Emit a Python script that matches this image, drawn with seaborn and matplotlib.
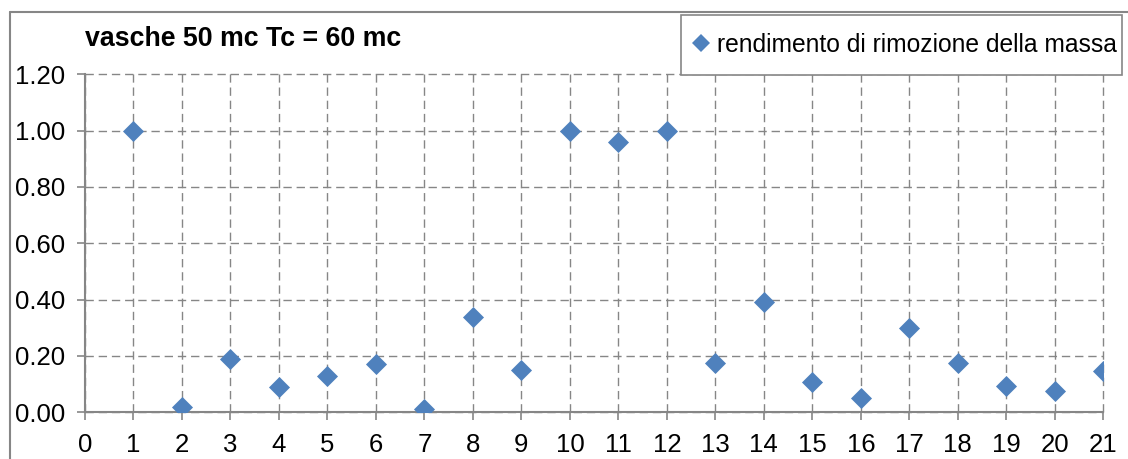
import matplotlib
matplotlib.use("Agg")
import matplotlib.pyplot as plt
from matplotlib.lines import Line2D
from matplotlib.patches import Rectangle
import seaborn as sns
import pandas as pd

# Mass removal efficiency per event
eventi = list(range(1, 22))
rendimento = [1.00, 0.02, 0.19, 0.09, 0.13, 0.17, 0.01, 0.34, 0.15, 1.00,
              0.96, 1.00, 0.175, 0.39, 0.107, 0.052, 0.30, 0.174, 0.092, 0.076, 0.148]
x_ticks = list(range(0, 22))
y_ticks = [0.0, 0.2, 0.4, 0.6, 0.8, 1.0, 1.2]
titolo = "vasche 50 mc Tc = 60 mc"
etichetta = "rendimento di rimozione della massa"

sns.set_theme(style="white")
FONT = ["Liberation Sans", "DejaVu Sans"]
plt.rcParams["font.family"] = FONT
plt.rcParams["text.color"] = "black"

BLUE = "#4F81BD"
GRAY = "#868686"

df = pd.DataFrame({"evento": eventi, "rendimento": rendimento})

fig = plt.figure(figsize=(11.28, 4.59), dpi=100)
ax = fig.add_axes([85 / 1128, 1 - 412.3 / 459, (1103.3 - 85) / 1128, (412.3 - 74.3) / 459])

sns.scatterplot(data=df, x="evento", y="rendimento", marker="D", s=115,
                color=BLUE, linewidth=0, ax=ax, zorder=3, legend=False)

ax.set_xlim(0, 21)
ax.set_ylim(0, 1.2)
ax.set_xticks(x_ticks)
ax.set_xticklabels([str(v) for v in x_ticks])
ax.set_yticks(y_ticks)
ax.set_yticklabels([f"{v:.2f}" for v in y_ticks])
ax.set_xlabel("")
ax.set_ylabel("")

ax.grid(True, color=GRAY, linestyle=(0, (6, 3.5)), linewidth=1.0, zorder=1)
for gl in ax.get_xgridlines() + ax.get_ygridlines():
    gl.set_clip_on(False)
for side in ["top", "right"]:
    ax.spines[side].set_visible(False)
for side in ["left", "bottom"]:
    ax.spines[side].set_visible(True)
    ax.spines[side].set_color(GRAY)
    ax.spines[side].set_linewidth(1.5)
    ax.spines[side].set_zorder(2)

ax.tick_params(axis="both", direction="out", length=6, width=1.2, color=GRAY,
               labelsize=18.5, labelcolor="black", bottom=True, left=True)
ax.tick_params(axis="x", pad=9)
ax.tick_params(axis="y", pad=8)

# Outer chart frame (top and left edges)
fig.add_artist(Line2D([10 / 1128, 10 / 1128], [0, 1 - 12 / 459], transform=fig.transFigure,
                      color=GRAY, linewidth=1.5))
fig.add_artist(Line2D([10 / 1128, 1], [1 - 12 / 459, 1 - 12 / 459], transform=fig.transFigure,
                      color=GRAY, linewidth=1.5))

# Title
fig.text(85 / 1128, 1 - 39 / 459, titolo, ha="left", va="center", color="black",
         fontsize=19.3, fontweight="bold", family=FONT)

# Legend box
lx0, ly0, lx1, ly1 = 681 / 1128, 1 - 75 / 459, 1122 / 1128, 1 - 15 / 459
fig.add_artist(Rectangle((lx0, ly0), lx1 - lx0, ly1 - ly0, transform=fig.transFigure,
                         facecolor="white", edgecolor=GRAY, linewidth=1.2, zorder=5))
handle = Line2D([], [], marker="D", linestyle="none", color=BLUE, markersize=9,
                markeredgewidth=0)
leg = fig.legend([handle], [etichetta], loc="center left",
                 bbox_to_anchor=(694 / 1128, (ly0 + ly1) / 2),
                 bbox_transform=fig.transFigure, frameon=False, fontsize=17.7,
                 handlelength=0.6, handletextpad=0.35, borderpad=0, borderaxespad=0,
                 labelcolor="black")
leg.set_zorder(6)

fig.savefig("out.png", dpi=100)
